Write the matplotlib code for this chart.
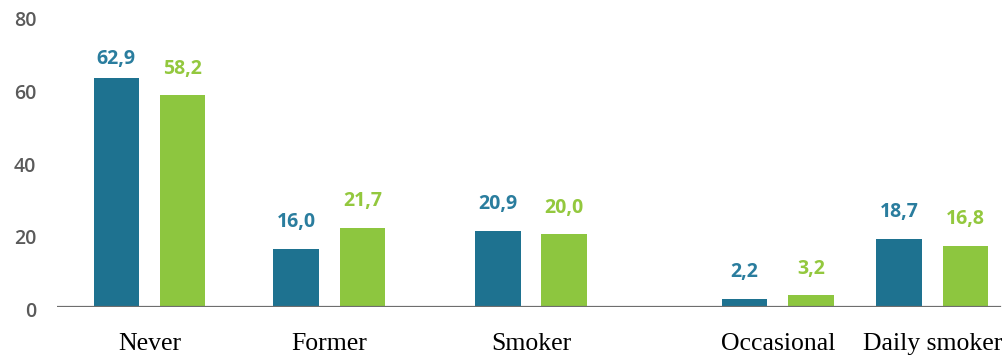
import matplotlib
matplotlib.use("Agg")
import matplotlib.pyplot as plt
from matplotlib.transforms import ScaledTranslation

# Smoking status shares (%) for two survey groups
categories = ["Never", "Former", "Smoker", "Occasional", "Daily smoker"]
series_a = [62.9, 16.0, 20.9, 2.2, 18.7]
series_b = [58.2, 21.7, 20.0, 3.2, 16.8]
y_ticks = [0, 20, 40, 60, 80]

# Layout (horizontal positions of the category groups, in axis units)
group_x = [149.5, 329.3, 531.0, 777.7, 932.2]
bar_w = 45.5
half_gap = 33.2

col_a = "#1e7290"
col_b = "#8dc63f"
lab_a = "#2a7d9e"
lab_b = "#93c83e"

fig = plt.figure(figsize=(10.08, 3.59), dpi=100)
W, H = 1008, 359
ax = fig.add_axes([57 / W, 52 / H, (W - 57) / W, (H - 52) / H])
px_per_unit = 3.64
ax.set_xlim(57, W)
ax.set_ylim(0, (H - 52) / px_per_unit)

xa = [x - half_gap for x in group_x]
xb = [x + half_gap for x in group_x]
ax.bar(xa, series_a, width=bar_w, color=col_a, zorder=2)
ax.bar(xb, series_b, width=bar_w, color=col_b, zorder=2)

# baseline
ax.axhline(0, xmin=0, xmax=(1000 - 57) / (W - 57), color="#6e6e6e", lw=1.6, zorder=3)

# value labels above the bars
label_gap = 8.0
label_ceiling = 68.8
for xs, vals, c in ((xa, series_a, lab_a), (xb, series_b, lab_b)):
    for x, v in zip(xs, vals):
        ax.text(x, min(v + label_gap, label_ceiling), f"{v:.1f}".replace(".", ","),
                ha="center", va="center_baseline", color=c,
                fontfamily="Open Sans", fontweight="bold", fontsize=14)

for s in ax.spines.values():
    s.set_visible(False)

ax.set_xticks(group_x)
ax.set_xticklabels(categories, fontfamily="Liberation Serif", fontsize=18.5, color="black")
ax.tick_params(axis="x", length=0, pad=18.5)

ax.set_yticks(y_ticks)
ax.set_yticklabels([str(t) for t in y_ticks], fontfamily="Open Sans",
                   fontweight="semibold", fontsize=14, color="#5a5a5a",
                   va="center_baseline")
ax.tick_params(axis="y", length=0, pad=15)
shift = ScaledTranslation(0, -2 / 72, fig.dpi_scale_trans)
for lab in ax.get_yticklabels():
    lab.set_transform(lab.get_transform() + shift)

fig.savefig("out.png", dpi=100)
